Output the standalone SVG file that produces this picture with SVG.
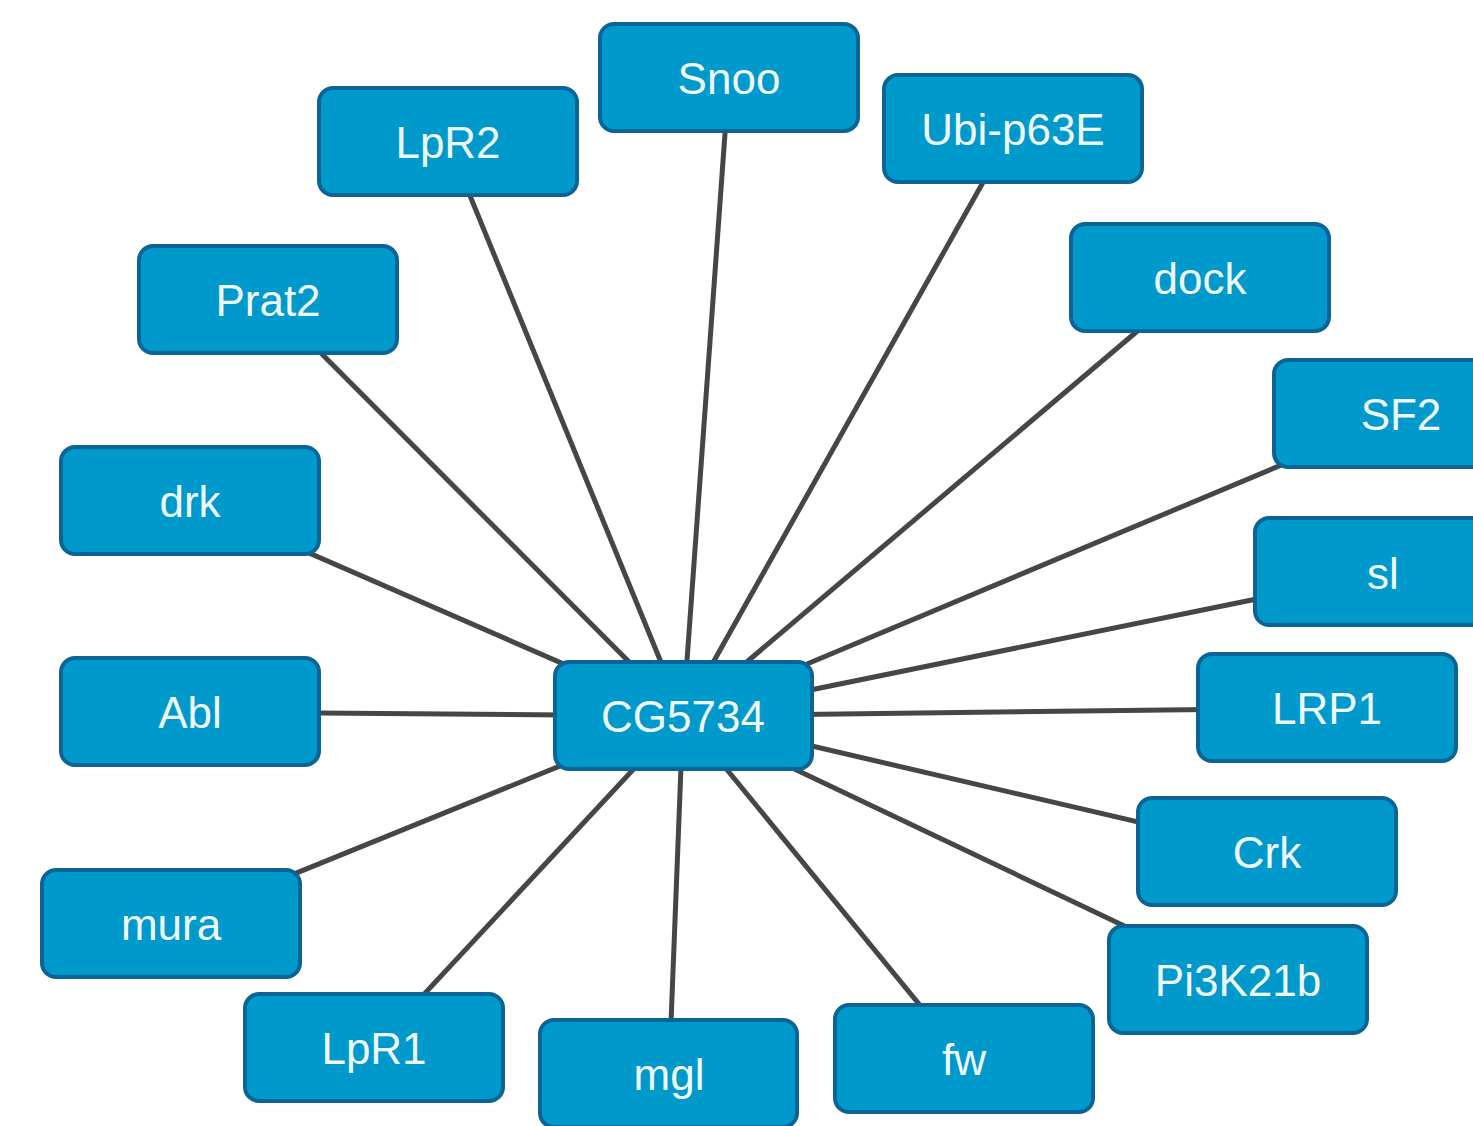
<svg xmlns="http://www.w3.org/2000/svg" width="1473" height="1126" viewBox="0 0 1473 1126">
<style>
.n rect{fill:#0099cc;stroke:#0b6496;stroke-width:4}
.n text{font-family:"Liberation Sans",Arial,sans-serif;font-size:44px;fill:#eef8fc;text-anchor:middle}
.e line{stroke:#464646;stroke-width:5}
</style>
<rect width="1473" height="1126" fill="#ffffff"/>
<g id="edges" class="e">
<line x1="683" y1="716" x2="729" y2="78"/>
<line x1="683" y1="716" x2="448" y2="142"/>
<line x1="683" y1="716" x2="1013" y2="129"/>
<line x1="683" y1="716" x2="268" y2="300"/>
<line x1="683" y1="716" x2="1200" y2="278"/>
<line x1="683" y1="716" x2="1403" y2="414"/>
<line x1="683" y1="716" x2="190" y2="501"/>
<line x1="683" y1="716" x2="1384" y2="573"/>
<line x1="683" y1="716" x2="190" y2="712"/>
<line x1="683" y1="716" x2="1327" y2="708"/>
<line x1="683" y1="716" x2="1267" y2="852"/>
<line x1="683" y1="716" x2="171" y2="924"/>
<line x1="683" y1="716" x2="1238" y2="980"/>
<line x1="683" y1="716" x2="374" y2="1048"/>
<line x1="683" y1="716" x2="669" y2="1074"/>
<line x1="683" y1="716" x2="964" y2="1059"/>
</g>
<g id="Snoo" class="n"><rect x="600" y="24" width="258" height="107" rx="14"/><text x="729" y="94">Snoo</text></g>
<g id="LpR2" class="n"><rect x="319" y="88" width="258" height="107" rx="14"/><text x="448" y="158">LpR2</text></g>
<g id="Ubi-p63E" class="n"><rect x="884" y="75" width="258" height="107" rx="14"/><text x="1013" y="145">Ubi-p63E</text></g>
<g id="Prat2" class="n"><rect x="139" y="246" width="258" height="107" rx="14"/><text x="268" y="316">Prat2</text></g>
<g id="dock" class="n"><rect x="1071" y="224" width="258" height="107" rx="14"/><text x="1200" y="294">dock</text></g>
<g id="SF2" class="n"><rect x="1274" y="360" width="258" height="107" rx="14"/><text x="1401" y="430">SF2</text></g>
<g id="drk" class="n"><rect x="61" y="447" width="258" height="107" rx="14"/><text x="190" y="517">drk</text></g>
<g id="sl" class="n"><rect x="1255" y="518" width="258" height="107" rx="14"/><text x="1383" y="589">sl</text></g>
<g id="Abl" class="n"><rect x="61" y="658" width="258" height="107" rx="14"/><text x="190" y="728">Abl</text></g>
<g id="CG5734" class="n"><rect x="555" y="662" width="257" height="107" rx="14"/><text x="683" y="732">CG5734</text></g>
<g id="LRP1" class="n"><rect x="1198" y="654" width="258" height="107" rx="14"/><text x="1327" y="724">LRP1</text></g>
<g id="Crk" class="n"><rect x="1138" y="798" width="258" height="107" rx="14"/><text x="1267" y="868">Crk</text></g>
<g id="mura" class="n"><rect x="42" y="870" width="258" height="107" rx="14"/><text x="171" y="940">mura</text></g>
<g id="Pi3K21b" class="n"><rect x="1109" y="926" width="258" height="107" rx="14"/><text x="1238" y="996">Pi3K21b</text></g>
<g id="LpR1" class="n"><rect x="245" y="994" width="258" height="107" rx="14"/><text x="374" y="1064">LpR1</text></g>
<g id="mgl" class="n"><rect x="540" y="1020" width="257" height="107" rx="14"/><text x="669" y="1090">mgl</text></g>
<g id="fw" class="n"><rect x="835" y="1005" width="258" height="107" rx="14"/><text x="964" y="1075">fw</text></g>
</svg>
